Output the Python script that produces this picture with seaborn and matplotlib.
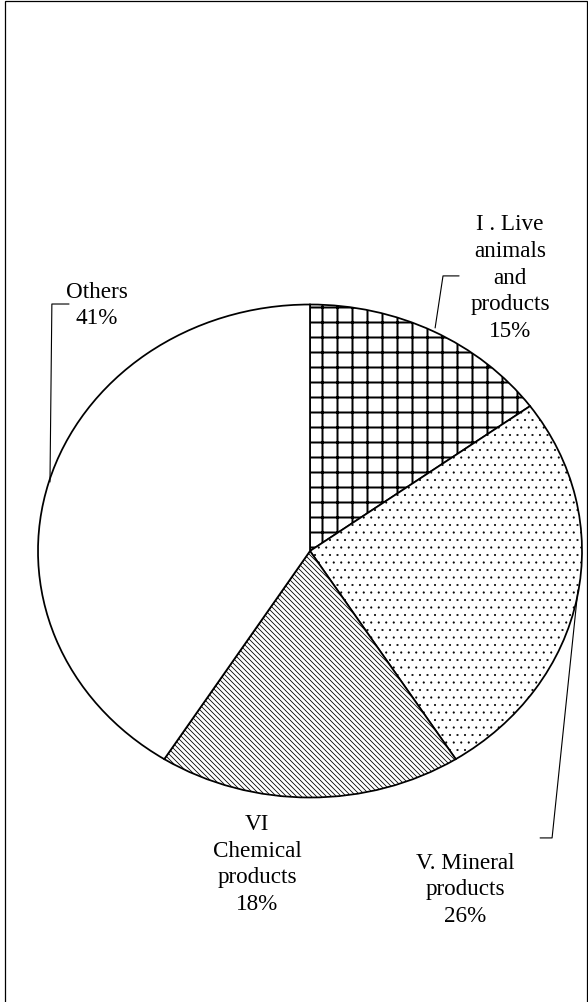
import matplotlib
matplotlib.use("Agg")
import matplotlib.pyplot as plt
import seaborn as sns
from matplotlib.patches import Rectangle

# data
categories = ["I . Live\nanimals\nand\nproducts", "V. Mineral\nproducts",
              "VI\nChemical\nproducts", "Others"]
shares = [15, 26, 18, 41]
hatches = ["+", "..", "\\" * 6, ""]
hatch_widths = [1.6, 0.45, 0.65, 0.8]

sns.set_theme(style="white")
plt.rcParams["font.family"] = ["Liberation Serif", "DejaVu Serif"]
plt.rcParams["hatch.color"] = "black"
plt.rcParams["hatch.linewidth"] = 0.8

DPI = 90
W, H = 588, 1002
fig = plt.figure(figsize=(W / DPI, H / DPI), dpi=DPI)
fig.patch.set_facecolor("white")

# pie is drawn slightly wider than tall, like the reference
ax = fig.add_axes([38 / W, 204.5 / H, 544 / W, 493 / H])
wedges, _ = ax.pie(shares, startangle=90, counterclock=False,
                   colors=["white"] * len(shares),
                   wedgeprops=dict(edgecolor="black", linewidth=1.4))
for w, h, hw in zip(wedges, hatches, hatch_widths):
    w.set_hatch(h)
    if hasattr(w, "set_hatch_linewidth"):
        w.set_hatch_linewidth(hw)
ax.set_aspect("auto")
ax.set_xlim(-1, 1)
ax.set_ylim(-1, 1)
ax.axis("off")

# label positions (data coords of the unit pie)
label_pos = [(0.735, 1.107), (0.570, -1.375), (-0.195, -1.272), (-0.783, 0.996)]
for cat, val, (x, y) in zip(categories, shares, label_pos):
    ax.text(x, y, f"{cat}\n{val}%", ha="center", va="center",
            fontsize=18.5, linespacing=1.35, color="black", clip_on=False)

# leader lines
leaders = [
    ([0.460, 0.489, 0.548], [0.905, 1.116, 1.116]),
    ([0.985, 0.890, 0.846], [-0.158, -1.164, -1.164]),
    ([-0.886, -0.949, -0.956], [1.002, 1.002, 0.280]),
]
for xs, ys in leaders:
    ax.plot(xs, ys, color="black", lw=0.9, clip_on=False)

# outer frame
fig.patches.append(Rectangle((5 / W, -0.01), 582 / W, 1.01 - 0.6 / H,
                             transform=fig.transFigure, fill=False,
                             edgecolor="black", linewidth=1.0))

fig.savefig("out.png", dpi=DPI, facecolor="white")
